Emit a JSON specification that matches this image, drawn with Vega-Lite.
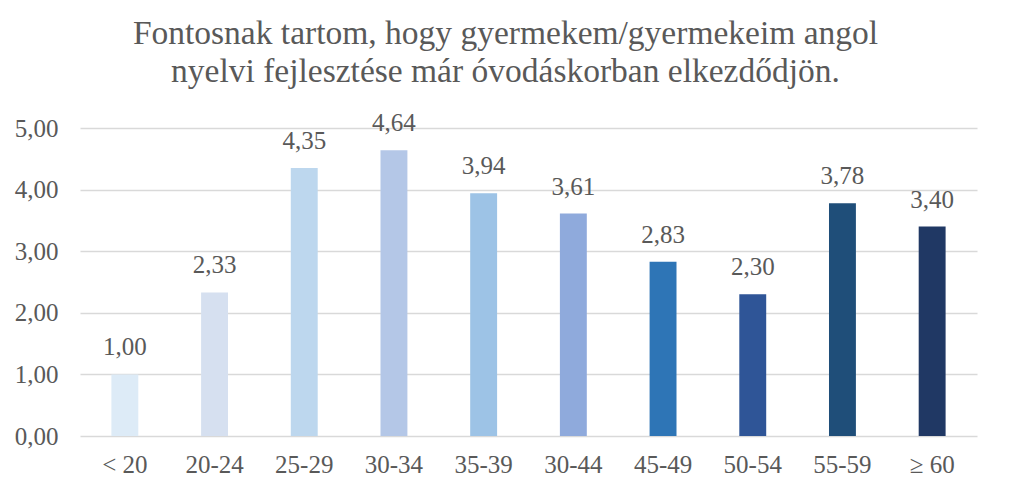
{
  "$schema": "https://vega.github.io/schema/vega-lite/v6.json",
  "width": 897,
  "height": 308,
  "autosize": {"type": "none"},
  "padding": {"left": 80, "top": 128, "right": 36, "bottom": 55},
  "background": "white",
  "title": {
    "text": ["Fontosnak tartom, hogy gyermekem/gyermekeim angol", "nyelvi fejlesztése már óvodáskorban elkezdődjön."],
    "font": "Liberation Serif",
    "fontSize": 33.5,
    "fontWeight": "normal",
    "color": "#595959",
    "anchor": "middle",
    "dx": -23,
    "lineHeight": 38,
    "offset": 22
  },
  "config": {
    "locale": {"number": {"decimal": ",", "thousands": " ", "grouping": [3], "currency": ["", " Ft"]}},
    "view": {"stroke": null},
    "axis": {"labelFont": "Liberation Serif", "labelColor": "#595959", "labelFontSize": 25, "titleFont": "Liberation Serif"}
  },
  "data": {
    "values": [
      {"group": "< 20", "value": 1.00, "color": "#DDEBF7"},
      {"group": "20-24", "value": 2.33, "color": "#D6E0F0"},
      {"group": "25-29", "value": 4.35, "color": "#BDD7EE"},
      {"group": "30-34", "value": 4.64, "color": "#B4C7E7"},
      {"group": "35-39", "value": 3.94, "color": "#9DC3E6"},
      {"group": "30-44", "value": 3.61, "color": "#8FAADC"},
      {"group": "45-49", "value": 2.83, "color": "#2E75B6"},
      {"group": "50-54", "value": 2.30, "color": "#2F5597"},
      {"group": "55-59", "value": 3.78, "color": "#1F4E79"},
      {"group": "≥ 60", "value": 3.40, "color": "#203864"}
    ]
  },
  "encoding": {
    "x": {
      "field": "group",
      "type": "nominal",
      "sort": null,
      "scale": {"paddingInner": 0.7, "paddingOuter": 0.35},
      "axis": {"title": null, "labelAngle": 0, "ticks": false, "domain": false, "labelPadding": 16}
    },
    "y": {
      "field": "value",
      "type": "quantitative",
      "scale": {"domain": [0, 5]},
      "axis": {
        "title": null,
        "values": [0, 1, 2, 3, 4, 5],
        "format": ".2f",
        "domain": false,
        "ticks": false,
        "labelPadding": 22,
        "gridColor": "#D9D9D9",
        "gridWidth": 1.5
      }
    }
  },
  "layer": [
    {
      "mark": {"type": "bar"},
      "encoding": {"color": {"field": "color", "type": "nominal", "scale": null}}
    },
    {
      "mark": {"type": "text", "baseline": "alphabetic", "dy": -19, "font": "Liberation Serif", "fontSize": 25, "color": "#595959"},
      "encoding": {"text": {"field": "value", "type": "quantitative", "format": ".2f"}}
    }
  ]
}
